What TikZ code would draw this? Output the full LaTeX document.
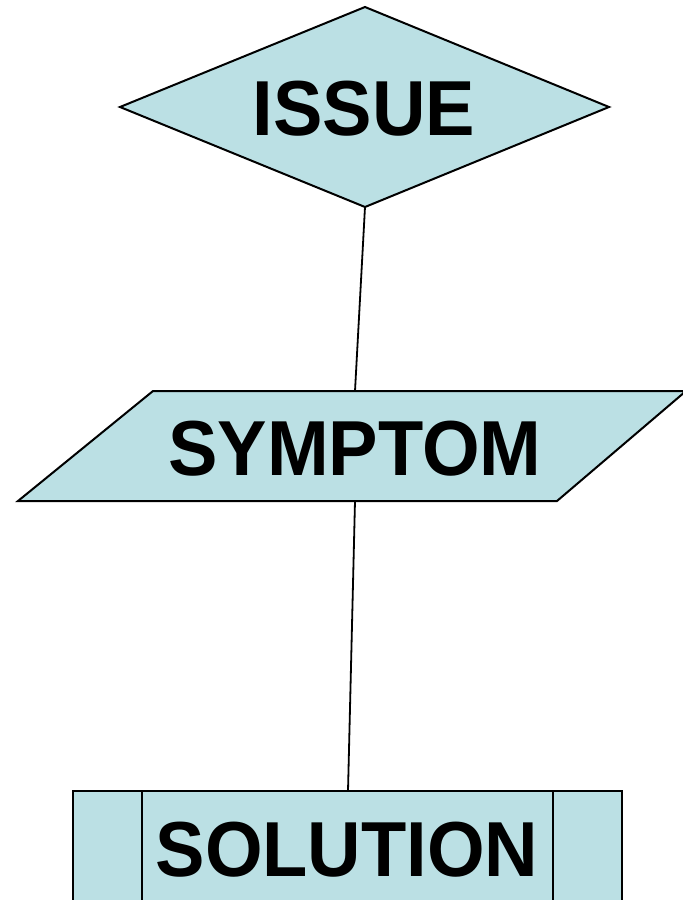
\documentclass[tikz,border=0pt]{standalone}
\usepackage{fontspec}
\setmainfont{Liberation Sans}
\definecolor{shapefill}{RGB}{187,224,228}
\tikzset{
  shapebox/.style={draw=black, fill=shapefill, line width=2pt, line join=miter},
  conn/.style={draw=black, line width=1.8pt},
  label/.style={font=\fontsize{78}{84}\selectfont\bfseries, inner sep=0pt, anchor=base, xscale=0.95}
}
\begin{document}
\begin{tikzpicture}[x=1pt,y=-1pt]
\useasboundingbox (0,0) rectangle (683,900);
\begin{scope}
\clip (0,0) rectangle (683,900);
% ISSUE diamond
\coordinate (dT) at (365,7);
\coordinate (dL) at (120,107);
\coordinate (dR) at (609,107);
\coordinate (dB) at (365,207);
\path[shapebox] (dT) -- (dR) -- (dB) -- (dL) -- cycle;
\node[label] (issue) at (364,135) {ISSUE};
% SYMPTOM parallelogram
\coordinate (pTL) at (153,391);
\coordinate (pTR) at (686,391);
\coordinate (pBR) at (557,501);
\coordinate (pBL) at (18,501);
\path[shapebox] (pTL) -- (pTR) -- (pBR) -- (pBL) -- cycle;
\node[label] (symptom) at (355,475) {SYMPTOM};
% SOLUTION predefined process
\coordinate (rTL) at (73,791);
\coordinate (rBR) at (622,910);
\path[shapebox] (rTL) rectangle (rBR);
\draw[line width=1.8pt] (142,791) -- (142,910);
\draw[line width=1.8pt] (553,791) -- (553,910);
\node[label] (solution) at (347,876) {SOLUTION};
% connectors
\coordinate (sTop) at (355,391);
\coordinate (sBot) at (355,501);
\coordinate (rTop) at (348,791);
\draw[conn] (dB) -- (sTop);
\draw[conn] (sBot) -- (rTop);
\end{scope}
\end{tikzpicture}
\end{document}
